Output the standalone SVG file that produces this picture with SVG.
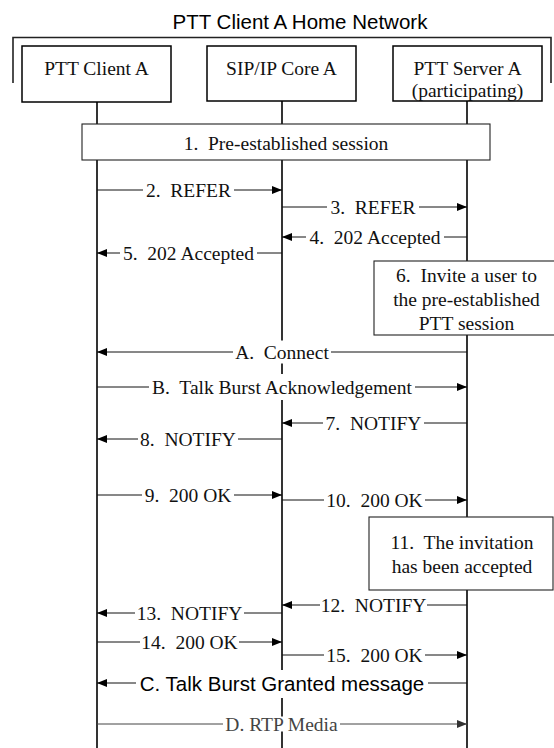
<svg xmlns="http://www.w3.org/2000/svg" width="554" height="748" viewBox="0 0 554 748" xml:space="preserve">
<style>
.ll{stroke:#000;stroke-width:1.6;fill:none}
.br{stroke:#222;stroke-width:1.6;fill:none}
.msg{stroke:#111;stroke-width:1;fill:none}
.gray{stroke:#444}
.bg{fill:#fff}
.box{fill:#fff;stroke:#000;stroke-width:1.5}
.nbox{fill:#fff;stroke:#222;stroke-width:1.1}
.t{font-family:"Liberation Serif","Times New Roman",serif;font-size:19.5px;fill:#111;text-anchor:middle;white-space:pre}
.s{font-family:"Liberation Sans",Arial,sans-serif;font-size:20.5px;fill:#000;text-anchor:middle;white-space:pre}
.gt{fill:#444}
</style>
<defs>
<marker id="ah" markerUnits="userSpaceOnUse" markerWidth="10" markerHeight="8" refX="10" refY="4" orient="auto">
<path d="M0,0 L10,4 L0,8 z" fill="#000"/>
</marker>
<marker id="ahg" markerUnits="userSpaceOnUse" markerWidth="10" markerHeight="8" refX="10" refY="4" orient="auto">
<path d="M0,0 L10,4 L0,8 z" fill="#333"/>
</marker>
</defs>
<rect width="554" height="748" fill="#fff"/>
<g id="network">
<text class="s" x="300" y="29">PTT Client A Home Network</text>
<path class="br" d="M13,83 V37.5 H551 V83"/>
</g>
<g id="lifelines">
<line class="ll" x1="97" y1="101" x2="97" y2="748"/>
<line class="ll" x1="282" y1="101" x2="282" y2="748"/>
<line class="ll" x1="467" y1="101" x2="467" y2="748"/>
</g>
<g id="client-a"><rect class="box" x="22" y="46" width="149" height="56"/><text class="t" x="96.5" y="75">PTT Client A</text></g>
<g id="sip-core-a"><rect class="box" x="207" y="46" width="149" height="55"/><text class="t" x="281.5" y="75">SIP/IP Core A</text></g>
<g id="server-a"><rect class="box" x="393" y="46" width="149" height="55"/><text class="t" x="467.5" y="75">PTT Server A</text><text class="t" x="467.5" y="97">(participating)</text></g>
<g id="step1"><rect class="nbox" x="82" y="124" width="408" height="36"/><text class="t" x="286" y="150">1.  Pre-established session</text></g>
<g id="step6"><rect class="nbox" x="374" y="261" width="186" height="74"/><text class="t" x="466.5" y="282">6.  Invite a user to</text><text class="t" x="466.5" y="306">the pre-established</text><text class="t" x="466.5" y="330">PTT session</text></g>
<g id="step11"><rect class="nbox" x="369" y="517" width="184" height="73"/><text class="t" x="462" y="549">11.  The invitation</text><text class="t" x="462" y="573">has been accepted</text></g>
<g id="connectors">
<line class="msg" x1="97" y1="190" x2="282" y2="190" marker-end="url(#ah)"/>
<rect class="bg" x="143" y="179" width="91" height="22"/><text class="t" x="188.5" y="197">2.  REFER</text>
<line class="msg" x1="282" y1="207" x2="467" y2="207" marker-end="url(#ah)"/>
<rect class="bg" x="327" y="196" width="92" height="22"/><text class="t" x="373" y="214">3.  REFER</text>
<line class="msg" x1="467" y1="237" x2="282" y2="237" marker-end="url(#ah)"/>
<rect class="bg" x="306" y="226" width="138" height="22"/><text class="t" x="375" y="244">4.  202 Accepted</text>
<line class="msg" x1="282" y1="253" x2="97" y2="253" marker-end="url(#ah)"/>
<rect class="bg" x="120" y="242" width="137" height="22"/><text class="t" x="188.5" y="260">5.  202 Accepted</text>
<line class="msg" x1="467" y1="352" x2="97" y2="352" marker-end="url(#ah)"/>
<rect class="bg" x="233" y="340.5" width="98" height="23"/><text class="t" x="282" y="359">A.  Connect</text>
<line class="msg" x1="97" y1="387" x2="467" y2="387" marker-end="url(#ah)"/>
<rect class="bg" x="149" y="374" width="266" height="26"/><text class="t" x="282" y="394">B.  Talk Burst Acknowledgement</text>
<line class="msg" x1="467" y1="423" x2="282" y2="423" marker-end="url(#ah)"/>
<rect class="bg" x="323" y="412" width="101" height="22"/><text class="t" x="373.5" y="430">7.  NOTIFY</text>
<line class="msg" x1="282" y1="439" x2="97" y2="439" marker-end="url(#ah)"/>
<rect class="bg" x="138" y="428" width="100" height="22"/><text class="t" x="188" y="446">8.  NOTIFY</text>
<line class="msg" x1="97" y1="495" x2="282" y2="495" marker-end="url(#ah)"/>
<rect class="bg" x="142" y="484" width="92" height="22"/><text class="t" x="188" y="502">9.  200 OK</text>
<line class="msg" x1="282" y1="500" x2="467" y2="500" marker-end="url(#ah)"/>
<rect class="bg" x="324" y="489" width="101" height="22"/><text class="t" x="374.5" y="507">10.  200 OK</text>
<line class="msg" x1="467" y1="605" x2="282" y2="605" marker-end="url(#ah)"/>
<rect class="bg" x="320" y="594" width="107" height="22"/><text class="t" x="373.5" y="612">12.  NOTIFY</text>
<line class="msg" x1="282" y1="613" x2="97" y2="613" marker-end="url(#ah)"/>
<rect class="bg" x="135" y="602" width="109" height="22"/><text class="t" x="189.5" y="620">13.  NOTIFY</text>
<line class="msg" x1="97" y1="642" x2="282" y2="642" marker-end="url(#ah)"/>
<rect class="bg" x="140" y="631" width="99" height="22"/><text class="t" x="189.5" y="649">14.  200 OK</text>
<line class="msg" x1="282" y1="655" x2="467" y2="655" marker-end="url(#ah)"/>
<rect class="bg" x="324" y="644" width="101" height="22"/><text class="t" x="374.5" y="662">15.  200 OK</text>
<line class="msg" x1="467" y1="683" x2="97" y2="683" marker-end="url(#ah)"/>
<rect class="bg" x="136" y="670" width="292" height="28"/><text class="s" x="282" y="690.5">C. Talk Burst Granted message</text>
<line class="msg gray" x1="97" y1="724" x2="467" y2="724" marker-end="url(#ahg)"/>
<rect class="bg" x="223" y="716.5" width="117" height="15"/><text class="t gt" x="281.5" y="731">D. RTP Media</text>
</g>
</svg>
